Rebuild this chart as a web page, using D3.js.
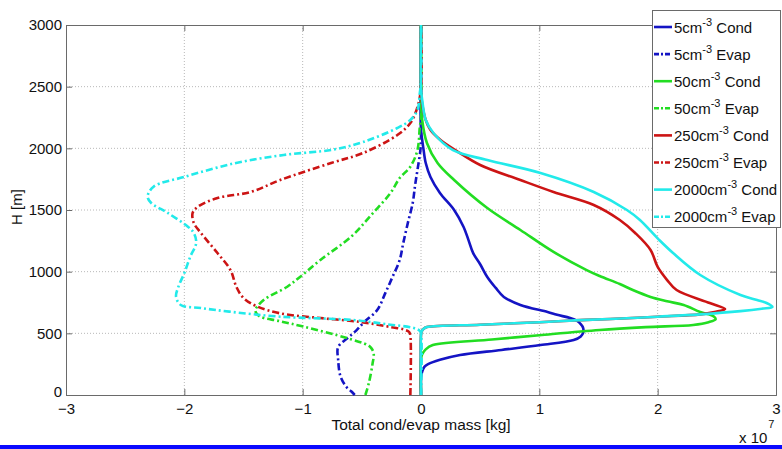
<!DOCTYPE html>
<html><head><meta charset="utf-8">
<script src="https://cdn.jsdelivr.net/npm/d3@7"></script>
<style>
html,body{margin:0;padding:0;background:#fff;}
svg{display:block;font-family:"Liberation Sans",Arial,Helvetica,sans-serif;}
</style></head>
<body>
<svg id="chart" width="782" height="449"></svg>
<script>
// ---- data: [height (m), mass (x1e7 kg)] ----
const cond5 = [[0,0],[140,0],[190,0.01],[230,0.03],[250,0.06],[285,0.16],[324,0.33],[365,0.68],[405,1.01],[446,1.29],[475,1.35],[503,1.37],[545,1.37],[575,1.35],[600,1.32],[624,1.26],[650,1.15],[673,1.07],[730,0.84],[795,0.70],[870,0.63],[957,0.56],[1060,0.50],[1152,0.44],[1260,0.40],[1362,0.36],[1500,0.28],[1638,0.16],[1768,0.08],[1881,0.04],[2000,0.02],[2068,0.01],[2150,0],[3000,0]];
const evap5 = [[0,-0.56],[30,-0.59],[65,-0.63],[150,-0.68],[284,-0.70],[389,-0.70],[462,-0.62],[520,-0.55],[592,-0.48],[689,-0.37],[830,-0.30],[959,-0.24],[1095,-0.18],[1232,-0.15],[1400,-0.11],[1557,-0.07],[1700,-0.05],[1824,-0.03],[1987,-0.005],[2100,0],[3000,0]];
const cond50 = [[0,0],[290,0],[330,0.01],[370,0.04],[405,0.1],[450,0.6],[485,1.0],[527,1.51],[550,1.9],[568,2.3],[590,2.43],[615,2.49],[640,2.47],[673,2.36],[730,2.22],[760,2.08],[795,1.94],[851,1.79],[900,1.68],[965,1.51],[1013,1.40],[1160,1.12],[1338,0.84],[1516,0.56],[1743,0.28],[1881,0.14],[2043,0.05],[2230,0.01],[2390,0],[3000,0]];
const evap50 = [[0,-0.47],[100,-0.44],[250,-0.41],[338,-0.40],[380,-0.42],[405,-0.45],[460,-0.62],[554,-0.99],[600,-1.2],[635,-1.36],[662,-1.39],[689,-1.40],[770,-1.33],[878,-1.13],[959,-1.02],[1095,-0.85],[1284,-0.59],[1460,-0.42],[1635,-0.26],[1759,-0.18],[1851,-0.09],[1986,-0.03],[2173,-0.01],[2250,0],[3000,0]];
const cond250 = [[0,0],[490,0],[515,0.005],[535,0.02],[551,0.05],[570,0.5],[590,1.0],[605,1.3],[616,1.6],[635,2.0],[654,2.36],[673,2.48],[697,2.57],[746,2.44],[851,2.16],[932,2.08],[1038,2.0],[1176,1.94],[1314,1.81],[1419,1.68],[1541,1.46],[1646,1.12],[1743,0.84],[1865,0.50],[1980,0.30],[2068,0.165],[2149,0.08],[2230,0.04],[2360,0.01],[2450,0],[3000,0]];
const evap250 = [[0,-0.09],[480,-0.09],[511,-0.10],[530,-0.14],[550,-0.25],[592,-0.51],[624,-0.85],[662,-1.19],[716,-1.38],[787,-1.50],[876,-1.56],[1013,-1.61],[1151,-1.72],[1314,-1.86],[1395,-1.92],[1476,-1.93],[1524,-1.89],[1597,-1.72],[1646,-1.44],[1743,-1.19],[1881,-0.76],[1962,-0.49],[2108,-0.20],[2205,-0.09],[2335,-0.03],[2490,0],[3000,0]];
const cond2000 = [[0,0],[490,0],[515,0.005],[535,0.02],[551,0.05],[570,0.5],[590,1.0],[605,1.3],[616,1.6],[635,2.0],[654,2.36],[680,2.7],[700,2.88],[714,2.97],[746,2.92],[770,2.84],[811,2.70],[973,2.36],[1151,2.13],[1260,2.01],[1419,1.85],[1500,1.74],[1646,1.46],[1800,1.01],[1905,0.56],[1986,0.27],[2124,0.105],[2230,0.04],[2392,0.01],[2480,0],[3000,0]];
const evap2000 = [[0,0],[500,0],[520,-0.01],[543,-0.06],[575,-0.3],[608,-0.57],[635,-1.19],[676,-1.62],[705,-1.86],[730,-2.03],[797,-2.07],[878,-2.05],[989,-2.0],[1121,-1.95],[1232,-1.90],[1314,-1.92],[1365,-1.97],[1476,-2.14],[1557,-2.28],[1608,-2.31],[1689,-2.26],[1768,-2.0],[1878,-1.58],[1946,-1.16],[1990,-0.74],[2051,-0.49],[2165,-0.20],[2230,-0.09],[2311,-0.03],[2449,-0.01],[2540,0],[3000,0]];

const seriesNames = ["5", "5", "50", "50", "250", "250", "2000", "2000"];
const seriesKinds = ["Cond", "Evap", "Cond", "Evap", "Cond", "Evap", "Cond", "Evap"];
const seriesData = [cond5, evap5, cond50, evap50, cond250, evap250, cond2000, evap2000];
const seriesColors = ["#1414c4", "#1414c4", "#22dd22", "#22dd22", "#cc1414", "#cc1414", "#22eaea", "#22eaea"];

const xTicks = [-3, -2, -1, 0, 1, 2, 3];
const yTicks = [0, 500, 1000, 1500, 2000, 2500, 3000];
const xLabel = "Total cond/evap mass [kg]";
const yLabel = "H [m]";

// ---- layout ----
const L = 66, R = 776, T = 25, B = 395;
const svg = d3.select("#chart");
const x = d3.scaleLinear().domain([-3, 3]).range([L, R]);
const y = d3.scaleLinear().domain([0, 3000]).range([B, T]);

// grid
const grid = svg.append("g");
grid.selectAll("line.gx").data(xTicks.slice(1, -1)).enter().append("line")
  .attr("x1", d => x(d)).attr("x2", d => x(d)).attr("y1", T).attr("y2", B)
  .attr("stroke", "#b8b8b8").attr("stroke-width", 1).attr("stroke-dasharray", "1,2");
grid.selectAll("line.gy").data(yTicks.slice(1, -1)).enter().append("line")
  .attr("x1", L).attr("x2", R).attr("y1", d => y(d)).attr("y2", d => y(d))
  .attr("stroke", "#b8b8b8").attr("stroke-width", 1).attr("stroke-dasharray", "1,2");

// axes
const axColor = "#6a6a6a";
const xAxis = svg.append("g").attr("transform", `translate(0,${B})`)
  .call(d3.axisBottom(x).tickValues(xTicks).tickSize(-6).tickPadding(8).tickFormat(d3.format("d")));
const xAxisTop = svg.append("g").attr("transform", `translate(0,${T})`)
  .call(d3.axisTop(x).tickValues(xTicks).tickSize(-6).tickFormat(""));
const yAxis = svg.append("g").attr("transform", `translate(${L},0)`)
  .call(d3.axisLeft(y).tickValues(yTicks).tickSize(-6).tickPadding(4).tickFormat(d3.format("d")));
const yAxisR = svg.append("g").attr("transform", `translate(${R},0)`)
  .call(d3.axisRight(y).tickValues(yTicks).tickSize(-6).tickFormat(""));
[xAxis, xAxisTop, yAxis, yAxisR].forEach(g => {
  g.select(".domain").attr("stroke", axColor).attr("stroke-width", 1);
  g.selectAll(".tick line").attr("stroke", axColor);
  g.selectAll(".tick text").attr("fill", "#111").style("font-size", "15px")
   .style("font-family", "'Liberation Sans',Arial,sans-serif");
});
xAxis.selectAll(".tick text").attr("dy", "0.71em");
// lift the bottom y label slightly so it clears the first x label
yAxis.selectAll(".tick text").filter(d => d === 0).attr("dy", "0.1em");

// lines
const line = d3.line().x(d => x(d[1])).y(d => y(d[0])).curve(d3.curveCatmullRom.alpha(0.5));
seriesData.forEach((data, i) => {
  svg.append("path").datum(data).attr("d", line)
    .attr("fill", "none").attr("stroke", seriesColors[i])
    .attr("stroke-width", 2.6)
    .attr("stroke-linejoin", "round")
    .attr("stroke-dasharray", seriesKinds[i] === "Evap" ? "7,3,2,3" : null);
});

// labels
svg.append("text").attr("x", (L + R) / 2).attr("y", 430).attr("text-anchor", "middle")
  .style("font-size", "15.5px").attr("fill", "#111").text(xLabel);
svg.append("text").attr("transform", "translate(22,207) rotate(-90)").attr("text-anchor", "middle")
  .style("font-size", "15px").attr("fill", "#111").text(yLabel);
const ex = svg.append("text").attr("x", 739).attr("y", 443).style("font-size", "15px").attr("fill", "#111");
ex.append("tspan").text("x 10");
ex.append("tspan").attr("dy", -15).attr("dx", 1).style("font-size", "11px").text("7");

// legend
const lg = svg.append("g");
lg.append("rect").attr("x", 652.5).attr("y", 10.5).attr("width", 128).attr("height", 217)
  .attr("fill", "#fff").attr("stroke", axColor).attr("stroke-width", 1);
seriesData.forEach((d, i) => {
  const cy = 27 + i * 27.1;
  lg.append("line").attr("x1", 654).attr("x2", 672).attr("y1", cy).attr("y2", cy)
    .attr("stroke", seriesColors[i]).attr("stroke-width", 2.6)
    .attr("stroke-dasharray", seriesKinds[i] === "Evap" ? "5,2,2,2" : null);
  const t = lg.append("text").attr("x", 674).attr("y", cy + 5.5).style("font-size", "15px").attr("fill", "#111");
  t.append("tspan").text(seriesNames[i] + "cm");
  t.append("tspan").attr("dy", -7).style("font-size", "11px").text("-3");
  t.append("tspan").attr("dy", 7).text(" " + seriesKinds[i]);
});

// bottom decoration bar
svg.append("rect").attr("x", 0).attr("y", 445).attr("width", 782).attr("height", 4).attr("fill", "#0a0aff");
</script>
</body></html>
